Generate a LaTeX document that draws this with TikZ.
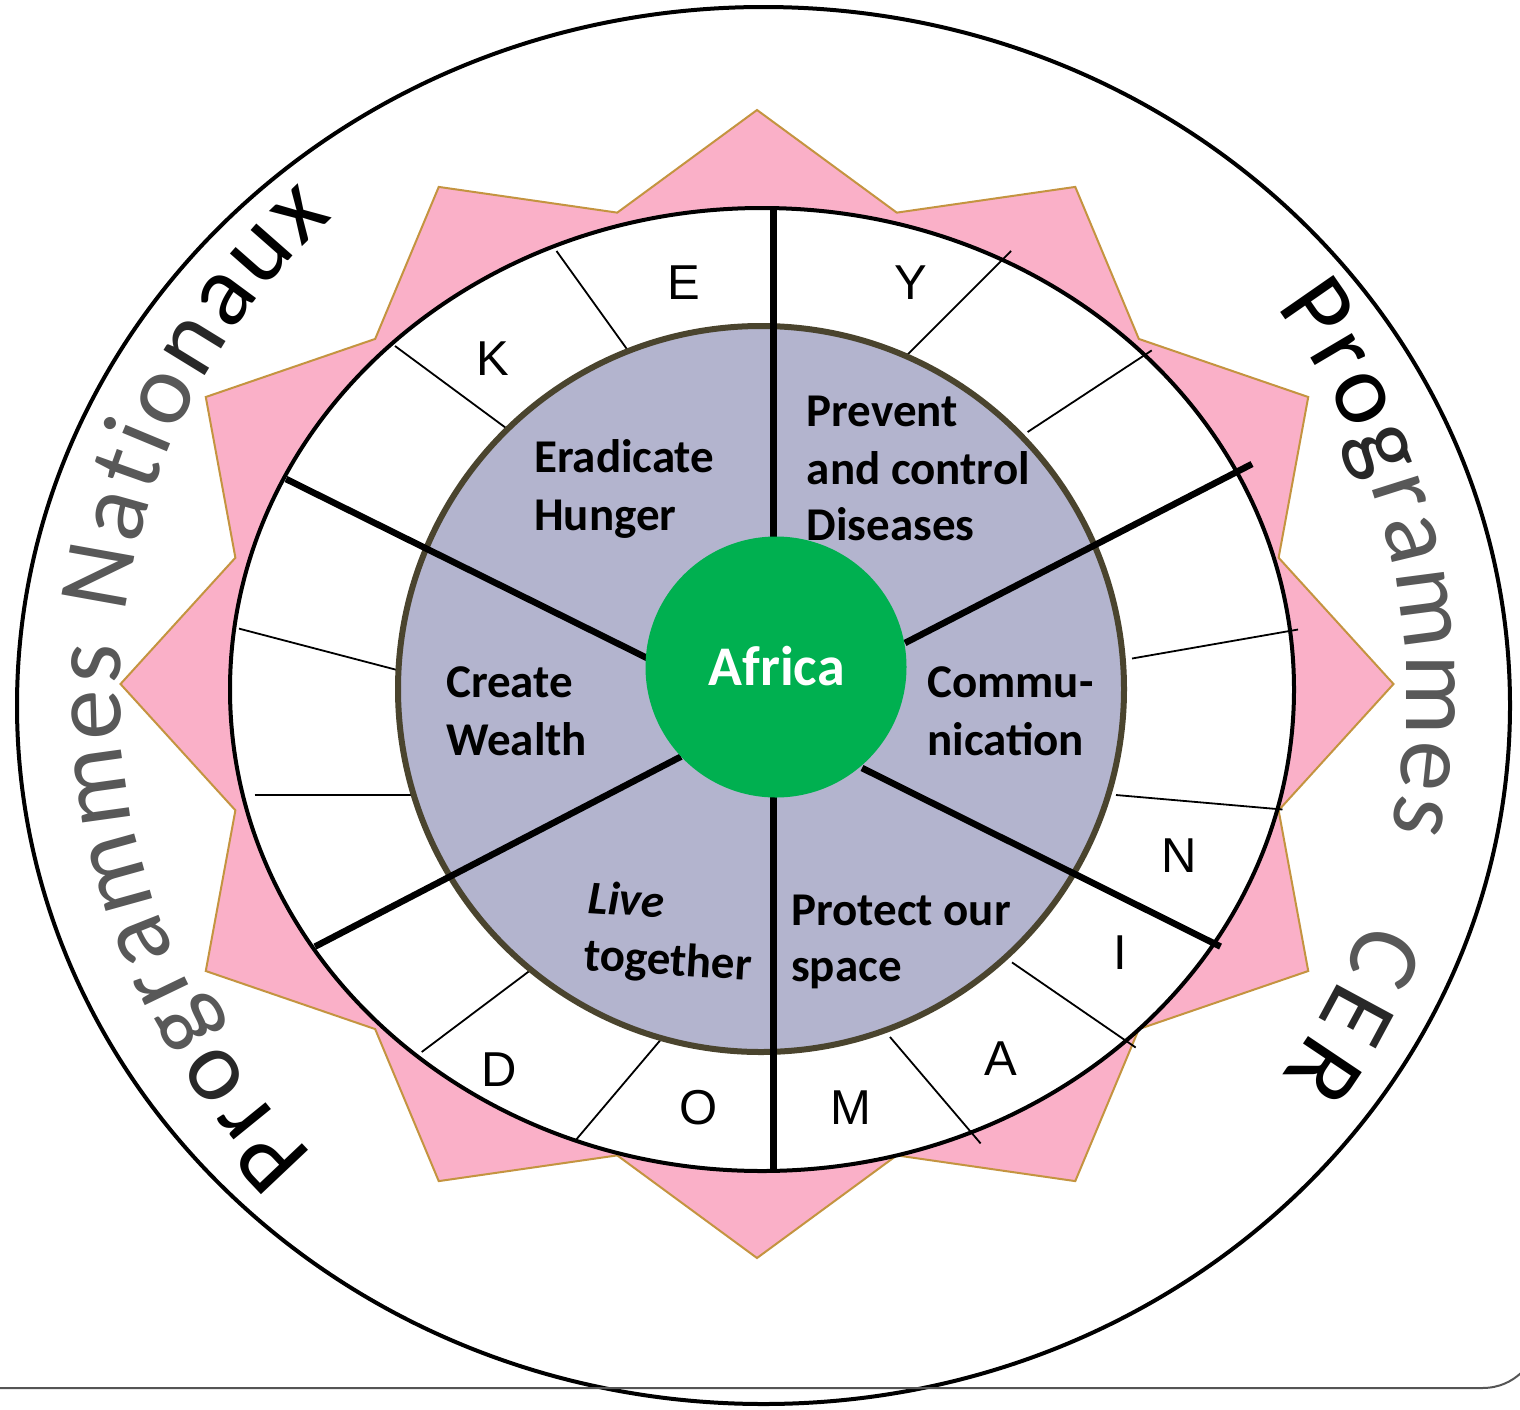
\documentclass[tikz,border=0pt]{standalone}
\usepackage{fontspec}
\setmainfont{Carlito}
\newfontfamily\sansletters{Liberation Sans}
\usetikzlibrary{decorations.text,calc}
\definecolor{starpink}{RGB}{250,176,200}
\definecolor{stargold}{RGB}{196,148,64}
\definecolor{discblue}{RGB}{179,180,206}
\definecolor{discrim}{RGB}{74,68,46}
\definecolor{africagreen}{RGB}{0,176,80}
\definecolor{textgrey}{RGB}{88,88,88}
\definecolor{textdark}{RGB}{40,40,40}
\definecolor{rulegrey}{RGB}{85,85,85}
\newcommand\curvefont{\fontsize{101}{101}\selectfont}
\begin{document}
\begin{tikzpicture}[x=1pt,y=-1pt,
  thickline/.style={line width=6.5pt, black},
  thinline/.style={line width=1.8pt, black},
  lbl/.style={font=\fontsize{47}{56}\selectfont\bfseries, anchor=base west, inner sep=0pt},
  ringletter/.style={font=\sansletters\fontsize{49}{49}\selectfont, inner sep=0pt, anchor=center},
  curved/.style={decorate, decoration={text along path, text align={fit to path}, text={#1}}}
]
\useasboundingbox (0,0) rectangle (1520,1409);
\fill[white] (0,0) rectangle (1520,1409);
% outer ellipse
\draw[line width=4pt] (763.5,705.5) ellipse [x radius=746.5pt, y radius=698.5pt];
% pink star
\filldraw[fill=starpink, draw=stargold, line width=2pt, line join=miter]
  (757,110) \foreach \k in {0,...,11} {
     -- ({757+540*cos(75-30*\k)},{684-488*sin(75-30*\k)})
     -- ({757+636.5*cos(60-30*\k)},{684-574*sin(60-30*\k)}) } -- cycle;
% white ring
\draw[line width=4pt, fill=white] (762,689.5) ellipse [x radius=532pt, y radius=481.5pt];
% thin dividers in the ring
\draw[thinline] (556.5,251) -- (632.6,357);
\draw[thinline] (395,346) -- (511.4,432);
\draw[thinline] (239,628.6) -- (404.8,672);
\draw[thinline] (254.5,795) -- (421.7,795);
\draw[thinline] (421.7,1052) -- (542,961.5);
\draw[thinline] (576,1139.8) -- (663,1037);
\draw[thinline] (890,1037) -- (980.6,1143.4);
\draw[thinline] (1012,962.4) -- (1135.7,1047.5);
\draw[thinline] (1116,795) -- (1282.5,809.5);
\draw[thinline] (1132,658.5) -- (1298,629.5);
\draw[thinline] (1027.6,432) -- (1151.7,350.4);
\draw[thinline] (1011,251) -- (906.4,355.8);
% blue disc
\draw[line width=6pt, draw=discrim, fill=discblue] (761,689) circle [radius=363pt];
% thick spokes
\draw[thickline] (773.5,207) -- (773.5,1172);
\draw[thickline] (286,479) -- (647,658);
\draw[thickline] (1252,464) -- (905,643);
\draw[thickline] (315,946.6) -- (681,756.6);
\draw[thickline] (1220.5,946.6) -- (862,768);
% green centre
\fill[africagreen] (776,667) circle [radius=130.5pt];
\node[font=\fontsize{56}{56}\selectfont\bfseries, text=white, anchor=base, inner sep=0pt] (africa) at (776.7,685) {Africa};
% sector labels
\node[lbl] (erad1) at (534,472) {Eradicate};
\node[lbl] (erad2) at (534,530) {Hunger};
\node[lbl] (prev1) at (806.6,426) {Prevent};
\node[lbl] (prev2) at (806.6,484) {and control};
\node[lbl] (prev3) at (806.6,540) {Diseases};
\node[lbl] (crea1) at (446,697.5) {Create};
\node[lbl] (crea2) at (446,755.6) {Wealth};
\node[lbl] (comm1) at (927,697.5) {Commu-};
\node[lbl] (comm2) at (927,755.6) {nication};
\node[lbl, rotate=-3.5] (live1) at (587,913) {\itshape Live};
\node[lbl, rotate=-3.5] (live2) at (583,970) {together};
\node[lbl] (prot1) at (791,925) {Protect our};
\node[lbl] (prot2) at (791,981) {space};
% ring letters
\node[ringletter] (lE) at (684,282.5) {E};
\node[ringletter] (lY) at (911,282.5) {Y};
\node[ringletter] (lK) at (493,359) {K};
\node[ringletter] (lN) at (1179.5,856) {N};
\node[ringletter] (lI) at (1120,953) {I};
\node[ringletter] (lA) at (1001,1058.6) {A};
\node[ringletter] (lM) at (851,1108) {M};
\node[ringletter] (lO) at (699,1108) {O};
\node[ringletter] (lD) at (499,1070) {D};
% curved titles
\path[curved={|\curvefont\color{black}|Pr|\curvefont\color{textdark}|o|\curvefont\color{textgrey}|grammes Natio|\curvefont\color{textdark}|n|\curvefont\color{black}|aux}]
  ($(763,695)+(225.7:643pt)$) arc [start angle=225.7, end angle=132, radius=643pt];
\path[curved={|\curvefont\color{black}|Pro|\curvefont\color{textdark}|g|\curvefont\color{textgrey}|rammes}]
  ($(763,695)+(37.1:643pt)$) arc [start angle=37.1, end angle=-12.2, radius=643pt];
\path[curved={|\curvefont\color{textgrey}|C|\curvefont\color{textdark}|E|\curvefont\color{black}|R}]
  ($(763,695)+(-20.5:643pt)$) arc [start angle=-20.5, end angle=-36.3, radius=643pt];
% bottom rule
\draw[rulegrey, line width=2pt] (0,1388) -- (1482,1388) .. controls (1500,1388) and (1512,1381) .. (1521,1373);
\end{tikzpicture}
\end{document}
